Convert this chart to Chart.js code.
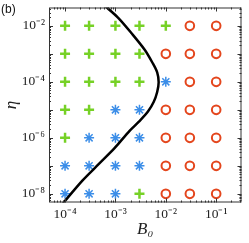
<!DOCTYPE html>
<html>
<head>
<meta charset="utf-8">
<script src="https://cdn.jsdelivr.net/npm/chart.js@4/dist/chart.umd.min.js"></script>
<style>
  html, body { margin: 0; padding: 0; background: #fff; }
  #wrap { width: 249px; height: 243px; position: relative; }
</style>
</head>
<body>
<div id="wrap"><canvas id="phase-chart"></canvas></div>
<script>
// grid of runs
const bValues = [1e-4, 3e-4, 1e-3, 3e-3, 1e-2, 3e-2, 1e-1];
const etaValues = [1e-2, 1e-3, 1e-4, 1e-5, 1e-6, 1e-7, 1e-8];
// P = plus (green), S = star (blue), O = circle (red); one row per eta value
const phaseRows = [
  ['P', 'P', 'P', 'P', 'P', 'O', 'O'],
  ['P', 'P', 'P', 'P', 'O', 'O', 'O'],
  ['P', 'P', 'P', 'P', 'S', 'O', 'O'],
  ['P', 'P', 'S', 'S', 'O', 'O', 'O'],
  ['P', 'S', 'S', 'S', 'O', 'O', 'O'],
  ['S', 'S', 'S', 'S', 'O', 'O', 'O'],
  ['S', 'S', 'S', 'P', 'O', 'O', 'O'],
];

// boundary curve
const curveB = [8.2e-5, 2.23e-4, 4.75e-4, 9.7e-4, 1.89e-3, 2.96e-3, 4.42e-3, 5.77e-3, 6.74e-3, 7.21e-3, 6.74e-3, 5.4e-3, 3.81e-3, 2.07e-3, 1.16e-3, 6.79e-4, 5.69e-4];
const curveEta = [3.7e-9, 3.03e-8, 1.19e-7, 4.35e-7, 1.75e-6, 3.85e-6, 8.65e-6, 1.94e-5, 4.35e-5, 9.75e-5, 2.19e-4, 4.91e-4, 1.4e-3, 5.55e-3, 1.86e-2, 4.53e-2, 6.25e-2];

const xTicks = [1e-4, 1e-3, 1e-2, 1e-1];
const yTicks = [1e-8, 1e-6, 1e-4, 1e-2];

const sup = { '-': '⁻', '0': '⁰', '1': '¹', '2': '²', '3': '³', '4': '⁴', '5': '⁵', '6': '⁶', '7': '⁷', '8': '⁸', '9': '⁹' };
function powLabel(v) {
  const e = String(Math.round(Math.log10(v)));
  return '10' + e.split('').map(c => sup[c]).join('');
}

function pointsFor(kind) {
  const pts = [];
  phaseRows.forEach((row, i) => {
    row.forEach((k, j) => {
      if (k === kind) pts.push({ x: bValues[j], y: etaValues[i] });
    });
  });
  return pts;
}

const curve = curveB.map((b, i) => ({ x: b, y: curveEta[i] }));

function noPad(s) {
  s.paddingTop = 0; s.paddingBottom = 0; s.paddingLeft = 0; s.paddingRight = 0;
}

// frame + inward log ticks on all four sides, like the original
const frameTicks = {
  id: 'frameTicks',
  afterDatasetsDraw(chart) {
    const { ctx, chartArea: a, scales } = chart;
    ctx.save();
    ctx.strokeStyle = '#333';
    ctx.lineWidth = 1;
    ctx.strokeRect(a.left + 0.5, a.top + 0.5, a.right - a.left - 1, a.bottom - a.top - 1);
    ctx.beginPath();
    for (let k = -6; k <= 1; k++) {
      for (let m = 1; m <= 9; m++) {
        const v = m * Math.pow(10, k);
        const len = m === 1 ? 4 : 2;
        const px = scales.x.getPixelForValue(v);
        if (px > a.left + 1 && px < a.right - 1) {
          const x = Math.round(px) + 0.5;
          ctx.moveTo(x, a.bottom); ctx.lineTo(x, a.bottom - len);
          ctx.moveTo(x, a.top); ctx.lineTo(x, a.top + len);
        }
      }
    }
    for (let k = -10; k <= 0; k++) {
      for (let m = 1; m <= 9; m++) {
        const v = m * Math.pow(10, k);
        const len = m === 1 ? 4 : 2;
        const py = scales.y.getPixelForValue(v);
        if (py > a.top + 1 && py < a.bottom - 1) {
          const y = Math.round(py) + 0.5;
          ctx.moveTo(a.left, y); ctx.lineTo(a.left + len, y);
          ctx.moveTo(a.right, y); ctx.lineTo(a.right - len, y);
        }
      }
    }
    ctx.stroke();
    ctx.fillStyle = '#111';
    ctx.font = '12px "Liberation Sans"';
    ctx.textBaseline = 'top';
    ctx.fillText('(b)', 1, 4);
    ctx.restore();
  }
};

const ctx = document.getElementById('phase-chart').getContext('2d');
new Chart(ctx, {
  type: 'scatter',
  data: {
    datasets: [
      {
        label: 'boundary',
        data: curve,
        showLine: true,
        borderColor: '#000',
        borderWidth: 2.5,
        pointRadius: 0,
        tension: 0.3,
        fill: false,
      },
      {
        label: 'plus',
        data: pointsFor('P'),
        pointStyle: 'cross',
        pointRadius: 5,
        borderColor: '#76d126',
        borderWidth: 2.5,
      },
      {
        label: 'star',
        data: pointsFor('S'),
        pointStyle: 'star',
        pointRadius: 5,
        borderColor: '#3c8ee8',
        borderWidth: 1.5,
      },
      {
        label: 'circle',
        data: pointsFor('O'),
        pointStyle: 'circle',
        pointRadius: 4.3,
        borderColor: '#e4461d',
        backgroundColor: 'rgba(0,0,0,0)',
        borderWidth: 2,
      },
    ],
  },
  options: {
    responsive: true,
    maintainAspectRatio: false,
    animation: false,
    layout: { padding: { top: 3, right: 1, left: 0, bottom: 0 } },
    plugins: { legend: { display: false }, tooltip: { enabled: false } },
    elements: { point: { hoverRadius: 5 } },
    scales: {
      x: {
        type: 'logarithmic',
        min: 4.8e-5,
        max: 0.318,
        afterBuildTicks: s => { s.ticks = xTicks.map(v => ({ value: v })); },
        afterFit: s => { s.height = 40.5; noPad(s); },
        grid: { display: false, drawTicks: false },
        border: { display: false },
        ticks: {
          autoSkip: false,
          maxRotation: 0,
          padding: 4,
          color: '#222',
          font: { family: '"Liberation Serif"', size: 13.5 },
          callback: v => powLabel(v),
        },
        title: {
          display: true,
          text: 'B₀',
          color: '#222',
          font: { family: '"Liberation Serif"', size: 17, style: 'italic' },
          padding: { top: 0, bottom: 3 },
        },
      },
      y: {
        type: 'logarithmic',
        min: 4.9e-9,
        max: 0.0453,
        afterBuildTicks: s => { s.ticks = yTicks.map(v => ({ value: v })); },
        afterFit: s => { s.width = 49; noPad(s); },
        grid: { display: false, drawTicks: false },
        border: { display: false },
        ticks: {
          autoSkip: false,
          padding: 4,
          color: '#222',
          font: { family: '"Liberation Serif"', size: 13.5 },
          callback: v => powLabel(v),
        },
        title: {
          display: true,
          text: 'η',
          color: '#222',
          font: { family: '"Liberation Serif"', size: 17, style: 'italic' },
          padding: { top: 1, bottom: 0 },
        },
      },
    },
  },
  plugins: [frameTicks],
});
</script>
</body>
</html>
